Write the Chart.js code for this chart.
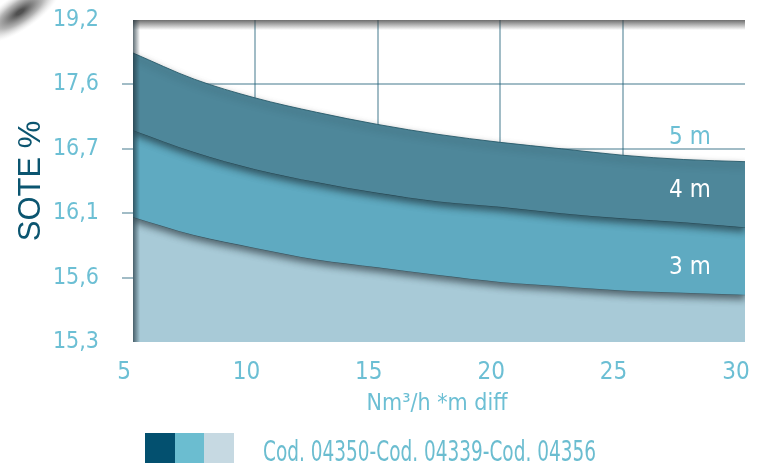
<!DOCTYPE html>
<html>
<head>
<meta charset="utf-8">
<script src="https://cdn.jsdelivr.net/npm/chart.js@4.4.1/dist/chart.umd.min.js"></script>
<style>
  html, body { margin: 0; padding: 0; background: #ffffff; }
  #wrap { width: 763px; height: 465px; position: relative; }
</style>
</head>
<body>
<div id="wrap"><canvas id="c" width="763" height="465"></canvas></div>
<script>
// ---- data ----
const flowValues = [5, 7.5, 10, 12.5, 15, 17.5, 20, 22.5, 25, 27.5, 30];          // Nm3/h *m diff
const sote5m = [18.38, 17.73, 17.41, 17.21, 17.04, 16.90, 16.79, 16.70, 16.64, 16.60, 16.58];
const sote4m = [16.96, 16.67, 16.51, 16.39, 16.29, 16.21, 16.16, 16.10, 16.06, 16.03, 15.99];
const sote3m = [16.07, 15.93, 15.83, 15.74, 15.68, 15.62, 15.58, 15.56, 15.54, 15.53, 15.52];
const yTickValues = [15.3, 15.6, 16.1, 16.7, 17.6, 19.2];
const yTickLabels = ['15,3', '15,6', '16,1', '16,7', '17,6', '19,2'];
const bandLabels = ['5 m', '4 m', '3 m'];
const legendText = 'Cod. 04350-Cod. 04339-Cod. 04356';
const xTitle = 'Nm³/h *m diff';
const yTitle = 'SOTE %';

// the y axis of the original has evenly spaced, non-linear tick values:
// map a SOTE value onto that axis piecewise between the tick values
function toAxis(v) {
  for (let i = 0; i < yTickValues.length - 1; i++) {
    const a = yTickValues[i], b = yTickValues[i + 1];
    if (v <= b || i === yTickValues.length - 2) return i + (v - a) / (b - a);
  }
}
const pts = arr => arr.map((v, i) => ({ x: flowValues[i], y: toAxis(v) }));

const NARROW = '"Liberation Sans Narrow", "DejaVu Sans Condensed", sans-serif';
const LBLUE = '#6cbfd4';
const GRID = 'rgba(30, 95, 120, 0.42)';

const decor = {
  id: 'decor',
  beforeDraw(chart) {
    const ctx = chart.ctx;
    ctx.save();
    ctx.fillStyle = '#ffffff';
    ctx.fillRect(0, 0, chart.width, chart.height);
    // corner smudge
    ctx.translate(20, 12);
    ctx.rotate(-0.6);
    ctx.scale(2.2, 0.8);
    const g = ctx.createRadialGradient(0, 0, 2, 0, 0, 22);
    g.addColorStop(0, 'rgba(50,50,50,0.85)');
    g.addColorStop(0.5, 'rgba(90,90,90,0.45)');
    g.addColorStop(1, 'rgba(200,200,200,0)');
    ctx.fillStyle = g;
    ctx.beginPath();
    ctx.arc(0, 0, 22, 0, Math.PI * 2);
    ctx.fill();
    ctx.restore();
  },
  beforeDatasetsDraw(chart) {
    const ctx = chart.ctx;
    ctx.save();
    ctx.shadowColor = 'rgba(20, 30, 35, 0.6)';
    ctx.shadowBlur = 7;
    ctx.shadowOffsetX = 0;
    ctx.shadowOffsetY = 4;
  },
  afterDatasetsDraw(chart) {
    const ctx = chart.ctx;
    ctx.restore();
    const a = chart.chartArea;
    ctx.save();
    // top frame shadow
    let g = ctx.createLinearGradient(0, a.top, 0, a.top + 10);
    g.addColorStop(0, 'rgba(60,60,60,0.75)');
    g.addColorStop(1, 'rgba(60,60,60,0)');
    ctx.fillStyle = g;
    ctx.fillRect(a.left, a.top, a.right - a.left, 10);
    // left frame shadow
    g = ctx.createLinearGradient(a.left, 0, a.left + 7, 0);
    g.addColorStop(0, 'rgba(30,50,60,0.7)');
    g.addColorStop(1, 'rgba(30,50,60,0)');
    ctx.fillStyle = g;
    ctx.fillRect(a.left, a.top, 7, a.bottom - a.top);
    ctx.restore();
  },
  afterDraw(chart) {
    const ctx = chart.ctx;
    const xs = chart.scales.x, ys = chart.scales.y;
    ctx.save();
    // band labels
    ctx.font = '24px ' + NARROW;
    ctx.textAlign = 'right';
    ctx.textBaseline = 'middle';
    const lx = xs.getPixelForValue(28.6);
    ctx.fillStyle = LBLUE;
    ctx.fillText(bandLabels[0], lx, ys.getPixelForValue(toAxis(16.85)));
    ctx.fillStyle = '#ffffff';
    ctx.fillText(bandLabels[1], lx, ys.getPixelForValue(toAxis(16.31)));
    ctx.fillText(bandLabels[2], lx, ys.getPixelForValue(toAxis(15.68)));
    // y title
    ctx.save();
    ctx.translate(31, 181);
    ctx.rotate(-Math.PI / 2);
    ctx.textAlign = 'center';
    ctx.fillStyle = '#0b5570';
    ctx.font = '31px "Liberation Sans", sans-serif';
    ctx.fillText(yTitle, 0, 0);
    ctx.restore();
    // x title
    ctx.textAlign = 'center';
    ctx.fillStyle = LBLUE;
    ctx.font = '23px ' + NARROW;
    ctx.fillText(xTitle, 437, 404);
    // legend
    ctx.fillStyle = '#03506f'; ctx.fillRect(145, 433, 30, 30);
    ctx.fillStyle = '#6bbdd0'; ctx.fillRect(175, 433, 29, 30);
    ctx.fillStyle = '#c6d9e2'; ctx.fillRect(204, 433, 30, 30);
    ctx.textAlign = 'left';
    ctx.textBaseline = 'alphabetic';
    ctx.fillStyle = '#6bbdd0';
    ctx.font = '28px ' + NARROW;
    ctx.fillText(legendText, 263, 461, 333);
    ctx.restore();
  }
};

new Chart(document.getElementById('c'), {
  type: 'line',
  data: {
    datasets: [
      { label: bandLabels[0], data: pts(sote5m), fill: '+1', backgroundColor: '#4e879a',
        borderColor: 'rgba(40,90,105,0.9)', borderWidth: 1, pointRadius: 0, cubicInterpolationMode: 'monotone' },
      { label: bandLabels[1], data: pts(sote4m), fill: '+1', backgroundColor: '#5faac1',
        borderColor: 'rgba(50,110,130,0.9)', borderWidth: 1, pointRadius: 0, cubicInterpolationMode: 'monotone' },
      { label: bandLabels[2], data: pts(sote3m), fill: 'start', backgroundColor: '#a8cad7',
        borderColor: 'rgba(90,140,160,0.9)', borderWidth: 1, pointRadius: 0, cubicInterpolationMode: 'monotone' }
    ]
  },
  options: {
    responsive: false,
    animation: false,
    devicePixelRatio: 1,
    layout: { padding: { left: 0, right: 18, top: 20, bottom: 0 } },
    plugins: { legend: { display: false }, tooltip: { enabled: false } },
    scales: {
      x: {
        type: 'linear', min: 5, max: 30, z: 1,
        afterFit(s) { s.height = 123; s.paddingLeft = 0; s.paddingRight = 0; },
        border: { display: false },
        grid: {
          drawTicks: false, lineWidth: 2,
          color: c => (c.tick && (c.tick.value === 5 || c.tick.value === 30)) ? 'rgba(0,0,0,0)' : GRID
        },
        ticks: {
          stepSize: 5, padding: 16, labelOffset: -9, color: LBLUE,
          font: { family: NARROW, size: 24 }, maxRotation: 0
        }
      },
      y: {
        type: 'linear', min: 0, max: yTickLabels.length - 1, z: 1,
        afterFit(s) { s.width = 133; s.paddingTop = 0; s.paddingBottom = 0; },
        border: { display: false },
        grid: {
          tickLength: 11, lineWidth: 2,
          color: c => (c.index === 0 || c.index === yTickLabels.length - 1) ? 'rgba(0,0,0,0)' : GRID
        },
        ticks: {
          stepSize: 1, padding: 23, color: LBLUE,
          font: { family: NARROW, size: 23 },
          callback: v => yTickLabels[v]
        }
      }
    }
  },
  plugins: [decor]
});
</script>
</body>
</html>
